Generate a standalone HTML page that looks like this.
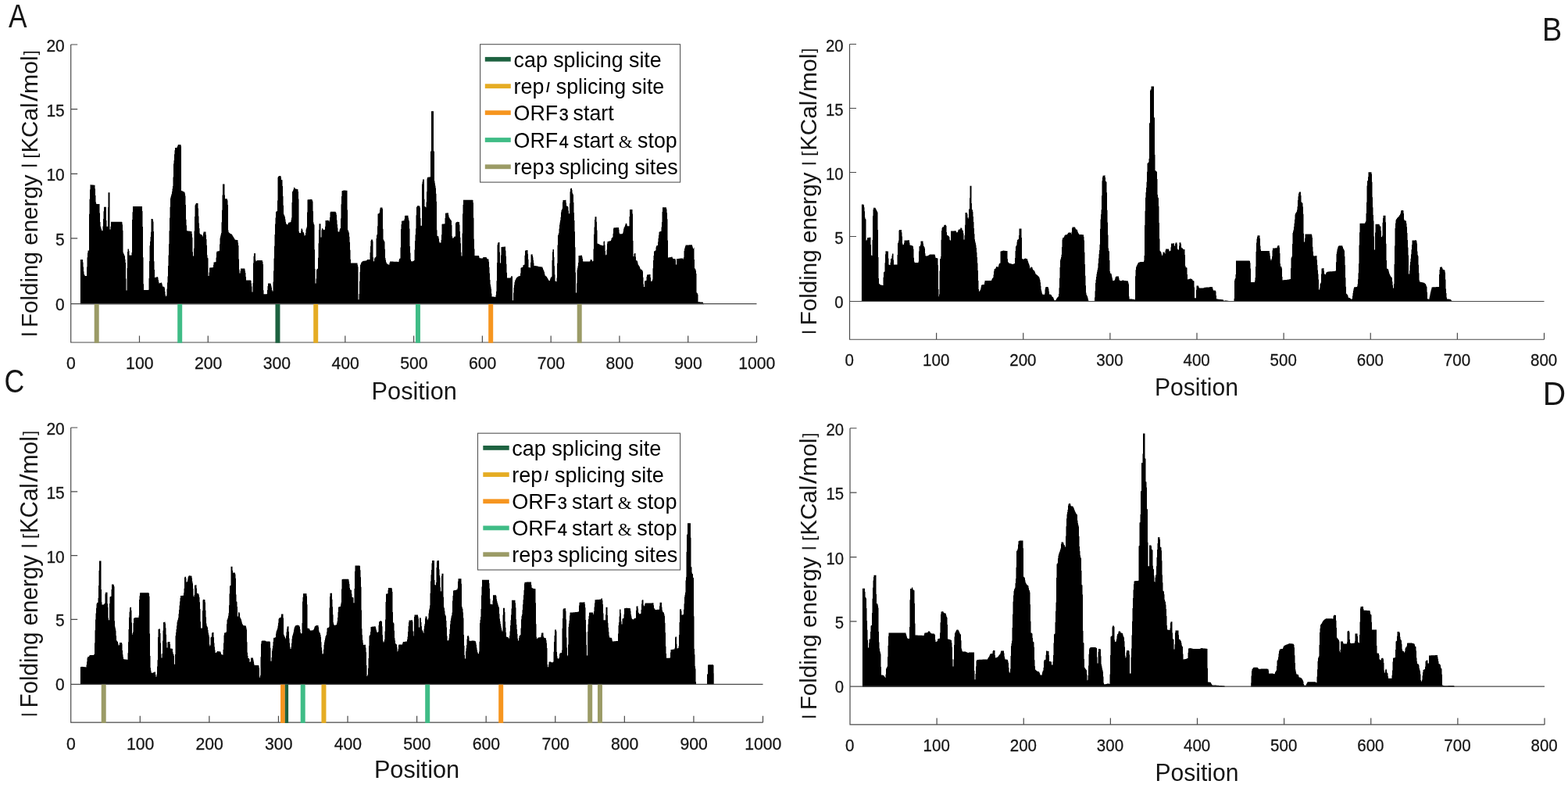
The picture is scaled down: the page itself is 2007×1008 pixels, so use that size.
<!DOCTYPE html>
<html lang="en"><head><meta charset="utf-8">
<title>Folding energy profiles</title>
<style>
html,body{margin:0;padding:0;background:#fff;}
body{width:2007px;height:1008px;overflow:hidden;}
svg{display:block;}
text{font-family:"Liberation Sans", Arial, Helvetica, sans-serif;fill:#151515;}
.tick{font-size:22.8px;text-anchor:middle;stroke:#151515;stroke-width:.3px;}
.ytick{font-size:22.8px;text-anchor:end;stroke:#151515;stroke-width:.3px;}
.xlab{font-size:30.7px;text-anchor:middle;}
.yl{font-size:29.6px;}
.ybar{font-size:19px;stroke:#151515;stroke-width:0.7px;}
.ybr{font-size:22.3px;}
.letter{font-size:42px;}
.leg{font-size:26.8px;fill:#000;}
.leg .sm{font-size:21.5px;stroke:#000;stroke-width:.4px;}
.leg .amp{font-family:"Liberation Serif", "DejaVu Serif", serif;font-size:22.8px;}
.leg .pr{font-size:17.5px;font-weight:bold;}
.ax{stroke:#4a4a4a;stroke-width:1.2;fill:none;}
.data{fill:#000;stroke:none;}
</style></head><body>
<svg width="2007" height="1008" viewBox="0 0 2007 1008">
<rect width="2007" height="1008" fill="#fff"/>
<g id="panel-A">
<path class="data" d="M102.9 389.3V331.9H106V335.5H106.5V341.4H107V347.2H107.5V350.8H108V351.8H108.5V352.7H109V353H111V341.4H111.5V329.3H112V323.6H112.5V320.5H114V273.7H114.5V254.8H115V242.5H115.5V236.3H116.5V236.4H117.5V236.5H118.5V236.6H119.5V236.7H120.5V236.8H121.5V241.4H122V250H122.5V258.6H123V260.8H124V260.9H125V261H126V261.1H127.5V272.4H128V283.9H128.5V289.6H129V291.3H129.5V292.9H130V294.6H130.5V295.2H131.5V289.5H132V279.9H132.5V270.3H133V264.7H136V282.1H136.5V289.7H138V265.1H138.5V246.2H140.5V293.6H141.5V289.8H142V283.7H156V284.2H156.5V287.2H157V294.8H157.5V322.8H158V324.2H158.5V325.3H159V326.4H159.5V327.5H160V331.7H160.5V335.9H161V356.4H161.5V371.4H162.5V343H163V322.1H163.5V318.6H165V320.9H165.5V326.5H168.5V323H169V281H169.5V271.2H170V264.1H182V270H182.5V290H183V329.2H183.5V363.2H184V371H190V370.7H190.5V356.1H191V334H191.5V314.3H192V308.7H192.5V303H193V296.8H193.5V280.1H195.5V280.8H196V283.6H196.5V296.1H197V334.2H197.5V345H198V355H198.5V354.9H199V354.7H199.5V354.6H200V354.5H200.5V354.4H201V354.2H201.5V354.1H202V355.3H202.5V358H203V360.6H203.5V362.4H204V362.2H204.5V362.1H205V361.9H205.5V361.8H206V361.6H206.5V361.5H207V362.5H207.5V364.6H208V366.4H208.5V366.5H209V366.7H209.5V366.8H210V366.9H210.5V368.5H211V372.8H211.5V377.1H212V378.9H213V377.5H213.5V369.5H214V361.5H214.5V353.5H215V340H215.5V326.5H216V312.2H216.5V295.2H217V278.8H217.5V264.8H218V253.4H218.5V251.6H219V249.8H219.5V248.1H220V245.1H220.5V241.5H221V237.9H221.5V226.4H222V209.6H222.5V205.3H223V197.2H223.5V192.3H224V189H226.5V188.3H227V186.9H227.5V185.5H228V185H231.5V186.7H232V243.9H232.5V244.1H233V244.3H233.5V244.6H234V244.8H234.5V245H235V245.2H235.5V245.5H236V245.7H236.5V247.4H237V250.4H237.5V262H238V280.8H238.5V288.2H239V295H239.5V295.3H240V295.4H241V295.5H241.5V295.6H242.5V295.7H243.5V295.8H244V295.9H245V296H245.5V298.9H246V303.7H246.5V322.3H247V327.5H248V317.7H248.5V295.5H249V277H249.5V262.5H250V261.4H250.5V260.4H251V259.8H251.5V259.9H252V260H253V260.1H253.5V266.6H254V276.5H254.5V285.4H255V291.9H255.5V298.4H256V299.4H256.5V299.6H257V299.8H257.5V300H258V300.2H258.5V301.3H259V302.8H259.5V301.3H260V298.5H260.5V296.6H263.5V300.6H264V306H264.5V313.8H265V326.3H265.5V329.8H266V330.2H266.5V353H267.5V348.4H268V342.5H268.5V342.4H269.5V342.3H271V342.2H272V342.1H273V338.8H273.5V335.5H274V335.4H274.5V335.3H275V335.2H276V335.1H276.5V329.5H277V322.7H277.5V321.5H278V321.4H279V321.3H280V321.2H280.5V320.7H281V312.4H281.5V304.5H282V302.3H282.5V300.1H283V297.9H283.5V284.2H284V268.7H284.5V249.6H285V235.4H287.5V249.5H288V254.2H290.5V254.4H291V256.2H291.5V261.9H292V294.4H292.5V297.1H293V297.6H293.5V298.1H294V298.6H294.5V298.8H295V299H295.5V299.2H296V299.4H296.5V299.8H297V300.6H297.5V301.4H298V302.3H298.5V303.1H299V304H299.5V304.8H300V305.6H300.5V306.4H301V306.7H302V306.8H302.5V306.9H303V307H303.5V307.1H304V307.2H304.5V310.4H305V313.9H305.5V331.4H306V344.6H306.5V349.4H307.5V346.5H308V343.5H313V343.7H313.5V346.2H314V348.9H314.5V353.9H315V358.4H321V358.9H321.5V362.4H322V366.4H322.5V373.4H323.5V362.1H324V336.6H324.5V327.8H325V323.9H327V332.5H327.5V334.2H328V333.8H328.5V333.4H329V333.1H335.5V333.2H336V334.9H336.5V337.9H337V371.2H337.5V376.3H341.5V376H342V371H342.5V366H343V362.4H346.5V363.5H347V365.5H347.5V367.8H348V371.1H348.5V372.4H349.5V360.6H350V346.4H350.5V330.6H351V314.8H351.5V300.1H352V286.4H352.5V278.5H353V271H353.5V270.5H354V270.2H354.5V269.9H355V256.5H355.5V226.7H356V226H356.5V225.3H357V224.9H359.5V226.8H360V229.9H360.5V230H361V230.2H361.5V238.1H362V250.9H362.5V262.8H363V273.7H363.5V275H364V276.2H364.5V277.5H365V280.5H365.5V283.8H366V285.9H366.5V286.4H367V286.9H367.5V287.4H368V287.2H368.5V286.1H369V285H369.5V284.6H370V284.5H370.5V284.4H371V284.3H371.5V284.2H372V283.8H372.5V281.2H373V278.5H373.5V259.1H374V245.3H374.5V244.4H375V243.5H375.5V241.9H376V239.5H376.5V240H377V240.6H377.5V241.2H378V241.5H378.5V241.6H379V241.7H379.5V241.8H380V242H380.5V242.1H381V242.2H381.5V244.9H382V254.4H382.5V296.1H383V297.8H383.5V297.9H384V298H384.5V298.2H385V295.5H385.5V292.6H387V294.1H387.5V296.6H388V297H388.5V297.5H389V299.1H389.5V301.6H390V301.2H390.5V300.8H391V297.9H391.5V293.6H392V291.9H392.5V290.3H393V271.5H393.5V255.4H394V255.3H395.5V255.2H396.5V255.1H398V255H399.5V256.2H400V257.6H400.5V270.2H401V284.2H401.5V286.6H402V287.6H402.5V319.2H403V344H403.5V362.4H404.5V356.6H405V345.3H405.5V344.2H406V343.9H406.5V343.5H407V329.7H407.5V311.2H408V294.1H408.5V286.3H410.5V303.6H411.5V294.2H412V291.9H412.5V292.3H413V292.6H413.5V293.5H414V294H414.5V293.9H415V293.8H415.5V293.7H416V289.8H416.5V282.1H417V282H418V281.9H419V281.8H420V281.7H420.5V282.5H421V283.6H421.5V281.7H422V277.9H422.5V271.7H423V270.7H429V270.8H429.5V271.5H430V272.2H430.5V274.8H431V281.6H431.5V286.9H432V291.6H432.5V296.2H433V296.6H434V296.3H434.5V293.8H435V292.4H435.5V291.9H436V279.6H436.5V261.2H437V250.9H437.5V244.2H438V244H438.5V243.9H439V243.7H439.5V243.6H440V243.4H440.5V243.5H441.5V243.6H442.5V243.7H443.5V243.8H444.5V268.6H445V293.9H445.5V295.1H446V296.4H446.5V297.7H447V302.7H447.5V309.8H448V319.8H448.5V331.8H449V336.5H457.5V338.7H458V341.2H458.5V383.3H459.5V376.1H460V359.7H460.5V347.7H461V339.1H461.5V337.8H462V336.6H462.5V335.4H463V335H463.5V334.6H464V334.2H464.5V333.9H465V333.8H466V333.7H467V333.6H468V333.5H468.5V333.4H469V332.9H469.5V332.4H470V331.9H473.5V322.9H474V314.8H474.5V307.9H475V306.6H477V308.4H477.5V329.2H478V334.5H478.5V334.1H479V330.7H479.5V329.4H480V329.3H480.5V329.2H481V327.9H481.5V304.9H482V300.8H482.5V299.8H483V289.3H483.5V273.6H484V273.4H484.5V273.1H485V272.9H485.5V271.7H486V268.2H486.5V265.7H487V265.6H487.5V265.4H488.5V265.5H489V265.6H489.5V267.3H490V292.8H490.5V306.3H491V307.3H491.5V308.3H492V309.3H492.5V318.7H493V329.9H493.5V332.4H494V334.9H494.5V336.6H495V337H495.5V337.5H496V337.9H496.5V338.3H497V338.5H498.5V335.9H499V334.5H500.5V334.6H503.5V334.7H506V334.8H509V334.9H510.5V332.9H511V331.1H511.5V330.8H512V330.6H512.5V316.4H513V293H513.5V287H514V282.7H514.5V282.6H515V282.5H515.5V282.4H516V282.3H516.5V282.2H517V282.1H517.5V280.1H518V276.1H518.5V275.7H522.5V278.6H523V281.2H523.5V282.7H524V292.5H524.5V314.9H525V323.4H525.5V331.9H526V334H526.5V334.2H527V334.3H527.5V334.5H528V334.3H528.5V334H529V333.7H529.5V333.4H530V333.1H530.5V319.4H531V308.1H531.5V300.3H532V292.5H532.5V275.3H533V265H533.5V264.2H534V263.3H537V264.1H537.5V265.8H538V279.1H538.5V288.7H540V235.6H540.5V232.4H541V229.5H543V254.8H543.5V264H544V264.4H544.5V264.8H545V265.2H545.5V258.6H546V245.2H546.5V228.4H547V226.8H547.5V226.7H548.5V226.6H549V226.5H550V226.4H550.5V226.3H551V193.6H552V142.2H555V193.6H556V231.6H556.5V234.6H557V237.6H557.5V240.6H558V247.7H558.5V257.7H559V294.3H559.5V301.8H560V302.1H560.5V302.3H561V302.6H561.5V305.3H562V308.7H562.5V310.6H564.5V306.9H565V300.2H565.5V286.7H566V286.6H566.5V286.5H567.5V286.4H568.5V286.3H569.5V278.9H570V272.7H570.5V272.6H571V272.5H571.5V272.4H572.5V272.3H573V272.2H573.5V272.4H574V275.2H574.5V277.8H575V278.6H575.5V279.4H576V280.3H576.5V281.1H577V281.8H577.5V282.3H578V287.9H578.5V301.9H579V303.7H579.5V305.1H580V304.5H580.5V303.8H581V303.2H581.5V302.6H583V285.4H583.5V284.4H584V284.2H584.5V283.9H585V283.7H586V283.8H586.5V283.9H587V284H588V287.5H588.5V296H589V303.7H589.5V311.2H590V322.7H590.5V327.5H591.5V298.6H592V273.4H592.5V262.1H593V255.8H605V256.1H605.5V259.3H606V278.7H606.5V305.8H607V318.6H607.5V327.1H613V328.2H613.5V330.1H614V330.2H615V330.3H616V330.4H617V330.5H617.5V330.2H618V329.5H618.5V329.1H622.5V329.6H623V330.6H623.5V331.2H624V331.3H624.5V331.4H625V331.5H625.5V334.7H626V341.7H626.5V349.4H627V357.9H627.5V363.8H628V366.6H628.5V369.5H629V375.5H629.5V379.4H630.5V379.5H631.5V379.6H632V379.7H633V379.8H634V379.9H634.5V377.4H635V372.7H635.5V359.2H636V336.1H636.5V313.3H637V311H637.5V310H639.5V322.4H640V336.5H641V326.6H641.5V316H642V315.9H643V315.8H644.5V315.7H645.5V315.6H647V320.6H647.5V327.7H648V337.7H648.5V348.7H649V355.4H653.5V354.8H654V353.8H654.5V353.1H655V353.2H655.5V353.4H656V384.3H657V374.4H657.5V368H658V364.6H658.5V361.1H659V358.9H659.5V357.9H660V356.9H660.5V355.9H661V355.2H661.5V354.8H662V354.4H662.5V354H663V353.5H663.5V353.4H664V353.3H664.5V353.2H665V353.1H666V349.4H666.5V342.8H667V342.3H667.5V342.2H668V342.1H668.5V341.9H669V340.9H669.5V339.1H670V338.9H670.5V338.7H671V338.5H671.5V326.7H672V320.5H672.5V320.4H673V320.3H673.5V320.2H674V320.1H675V320H675.5V324.8H676V331.8H676.5V341.9H677V342H677.5V342.1H678V342.3H678.5V342.4H679V335.7H679.5V325.5H680V325.4H680.5V325.3H681V325.1H681.5V327H682V329.2H682.5V332.7H683V336.4H683.5V339.9H684.5V340H685V340.1H686V340.2H686.5V340.3H687.5V340.4H688V340.5H688.5V340.7H689V341H689.5V341.1H690.5V341.2H691.5V341.3H693V341.4H694V341.5H694.5V342.9H695V344.4H695.5V345.5H696V346.5H696.5V347.9H697V350.4H697.5V352.5H698V352.8H698.5V353.2H699V353.5H699.5V354H700V354.9H700.5V355.8H701V356.6H701.5V357.5H702V358.4H702.5V358.8H703V359.1H703.5V359H704V357.2H704.5V355.4H705V354.8H705.5V354.6H706V353.8H706.5V333H707V322.3H707.5V319.1H709V328.9H709.5V340.2H710V351.2H710.5V359.5H711V359.7H711.5V360H712V360.2H712.5V355.4H713V336.7H713.5V313.6H714V301H714.5V299.8H715V298.1H715.5V292.6H716V287.4H716.5V284.5H717V281.7H717.5V277.8H718V271.5H718.5V269H719V267.9H719.5V266.8H720V258.6H720.5V256.1H721.5V256H722.5V255.9H723.5V255.8H724.5V259.4H725V263.4H725.5V263.6H726V263.8H726.5V264H727V264.9H727.5V269.5H728V273.3H729V260.3H729.5V245.3H730V241.6H730.5V240.8H732V243.1H732.5V246.8H733V248.1H733.5V249.3H734V259.1H734.5V272H735V282H735.5V296.3H736V316.3H736.5V348.4H737V374.4H738V362.6H738.5V345.3H739V342.8H739.5V340.3H740V336H740.5V327.1H741V327H742V326.9H742.5V326.8H743V326.7H744V326.6H744.5V326.7H745V328.6H745.5V331.1H746V334.2H746.5V334.5H755V333.9H755.5V332.3H756V331.9H757.5V332.9H758V334.5H758.5V334.1H759V333.7H759.5V318.5H760V299.8H760.5V290.4H761V280.9H761.5V277.3H763.5V283.7H764V294.4H764.5V311.6H765V311.7H765.5V311.8H766V311.9H766.5V312.1H767V312.5H767.5V312.9H768V313.2H768.5V313.4H769V313.5H769.5V313.6H770V313.8H770.5V313.9H771V314.1H771.5V314.3H772V314.1H772.5V309.1H773V308.6H774V313.2H774.5V321H775V325.8H775.5V326.6H776V325.8H776.5V319.6H777V311.4H777.5V309.1H778V308.9H778.5V308.8H779V308.6H779.5V308.5H780V308.4H780.5V308.3H781V308.2H781.5V308H782V306.9H782.5V304.9H783V303.9H783.5V303.8H784V303.6H784.5V298.8H785V292.6H785.5V291.2H788.5V291.1H792V293.6H792.5V297.7H793V299.2H796.5V298.9H797V298.1H797.5V296.2H798V293.2H798.5V291.2H799V290.4H799.5V289.5H800V288H800.5V286.2H801V285.7H802V286.3H802.5V288.6H803V289.3H805.5V277H806V268.1H809.5V273.4H810V308.1H810.5V328.1H811.5V324.8H812V323.9H813.5V328.4H814V333H814.5V333.3H815V333.6H815.5V333.8H816V335.7H816.5V338H817V339.1H817.5V339.8H818V340.6H818.5V341.3H819V342.7H819.5V344.2H820V344.6H820.5V344.7H821V344.9H821.5V345H822V346.1H822.5V347.3H823V354.8H823.5V363.4H824V367H825V359.4H825.5V359.3H826V359.2H826.5V359.1H827V358.7H827.5V353.9H828V351.4H829V351.3H830V351.2H831V351.1H832V351H832.5V354.9H833V359.8H833.5V359.7H834V359.6H834.5V359.5H835V357.5H835.5V343.2H836V333.1H836.5V326.9H837V321.5H837.5V321.3H838V321H838.5V320.8H839V319.9H839.5V316.2H840V314.5H840.5V314.3H841V314.1H841.5V314H842V309.4H842.5V304.7H843V300.7H843.5V296.7H844V296.4H844.5V296.2H845V296.1H845.5V295.9H846V295.7H846.5V290.4H847V283.9H847.5V270.9H848V265.3H852.5V265.4H853V267.6H853.5V272.3H854V280.2H854.5V307.4H855V329.5H855.5V329.4H856V329.3H857V329.2H857.5V329.1H858V329H858.5V328.9H859V328.8H859.5V328.6H860V328.5H860.5V329.5H861V330.6H861.5V331.1H864.5V332.6H865V338.5H866V331.1H866.5V331H867.5V330.9H868.5V330.8H869.5V330.7H870.5V330.6H871.5V330.5H874.5V331.8H875V329.2H875.5V321.1H876V318.2H876.5V316.5H877V314.9H877.5V313.6H878V313.5H880V313.4H882V313.3H884V313.2H886V314.8H886.5V316.6H887V317.8H887.5V318.3H888V316.8H888.5V332H889V343.2H889.5V343.8H890V344.4H890.5V346.2H891V350H891.5V374.2H892V374.7H892.5V375.2H893V376.7H893.5V386.2H894.5V386.3H896V386.4H897V386.5H898.5V386.6H899.5V386.8H900V387.8H900.5V388.7H900.9V389.3Z"/>
<path class="ax" d="M90.7 57V438H968.5M90.7 388.7H968.5M90.7 304.95h8.5M90.7 222.3h8.5M90.7 139.65h8.5M90.7 57h8.5M178.48 438v-8.5M266.26 438v-8.5M354.04 438v-8.5M441.82 438v-8.5M529.6 438v-8.5M617.38 438v-8.5M705.16 438v-8.5M792.94 438v-8.5M880.72 438v-8.5M968.5 438v-8.5"/>
<rect x="120.7" y="389" width="6" height="49.7" fill="#9b9b66"/>
<rect x="227.2" y="389" width="6" height="49.7" fill="#3fbc86"/>
<rect x="352.45" y="389" width="6" height="49.7" fill="#1d6240"/>
<rect x="401.2" y="389" width="6" height="49.7" fill="#e5ac23"/>
<rect x="531.95" y="389" width="6" height="49.7" fill="#3fbc86"/>
<rect x="625.2" y="389" width="6" height="49.7" fill="#f6951f"/>
<rect x="738.7" y="389" width="6" height="49.7" fill="#9b9b66"/>
<text class="ytick" transform="translate(82.7 396.6) scale(0.92 1)">0</text>
<text class="ytick" transform="translate(82.7 313.95) scale(0.92 1)">5</text>
<text class="ytick" transform="translate(82.7 231.3) scale(0.92 1)">10</text>
<text class="ytick" transform="translate(82.7 148.65) scale(0.92 1)">15</text>
<text class="ytick" transform="translate(82.7 66) scale(0.92 1)">20</text>
<text class="tick" transform="translate(91 471.6) scale(0.93 1)">0</text>
<text class="tick" transform="translate(178.78 471.6) scale(0.93 1)">100</text>
<text class="tick" transform="translate(266.56 471.6) scale(0.93 1)">200</text>
<text class="tick" transform="translate(354.34 471.6) scale(0.93 1)">300</text>
<text class="tick" transform="translate(442.12 471.6) scale(0.93 1)">400</text>
<text class="tick" transform="translate(529.9 471.6) scale(0.93 1)">500</text>
<text class="tick" transform="translate(617.68 471.6) scale(0.93 1)">600</text>
<text class="tick" transform="translate(705.46 471.6) scale(0.93 1)">700</text>
<text class="tick" transform="translate(793.24 471.6) scale(0.93 1)">800</text>
<text class="tick" transform="translate(881.02 471.6) scale(0.93 1)">900</text>
<text class="tick" transform="translate(968.8 471.6) scale(0.93 1)">1000</text>
<text class="xlab" transform="translate(530.2 510.7) scale(1 1.04)">Position</text>
<text class="yl" transform="translate(47.9 430) rotate(-90) scale(1 1.02)"><tspan class="ybar" x="0" y="-5">|</tspan><tspan x="2.78" y="0"> Folding energy </tspan><tspan class="ybar" x="215.8" y="-5">|</tspan><tspan class="ybr" x="221.31" y="-2.35"> [</tspan><tspan x="234.4" y="0">KCal</tspan><tspan x="300.2" y="0" textLength="10.3" lengthAdjust="spacingAndGlyphs">/</tspan><tspan x="310" y="0" textLength="48.7" lengthAdjust="spacingAndGlyphs">mol</tspan><tspan class="ybr" x="359.5" y="-2.35">]</tspan></text>
<text class="letter" transform="translate(10.9 34.5) scale(0.84 1)">A</text>
<rect x="614.6" y="56.7" width="256" height="176.4" fill="#fff" stroke="#555" stroke-width="1.1"/>
<rect x="620.8" y="72.9" width="32.95" height="5.8" fill="#1d6240"/>
<text class="leg" transform="translate(657.6 85.55) scale(1 1.03)">cap splicing site</text>
<rect x="620.8" y="107.3" width="32.95" height="5.8" fill="#e5ac23"/>
<text class="leg" transform="translate(657.6 119.95) scale(1 1.03)">rep<tspan class="pr" dx="2.6" dy="-1.5">/</tspan><tspan dx="0.6" dy="1.5"> </tspan>splicing site</text>
<rect x="620.8" y="141.3" width="32.95" height="5.8" fill="#f6951f"/>
<text class="leg" transform="translate(657.6 153.95) scale(1 1.03)">ORF<tspan class="sm" dx="1.5">3</tspan><tspan dx="-1.5"> </tspan>start</text>
<rect x="620.8" y="176.1" width="32.95" height="5.8" fill="#3fbc86"/>
<text class="leg" transform="translate(657.6 188.75) scale(1 1.03)">ORF<tspan class="sm" dx="1.5">4</tspan><tspan dx="-1.5"> </tspan>start <tspan class="amp" dx="-1.3">&amp;</tspan><tspan dx="-0.9"> </tspan>stop</text>
<rect x="620.8" y="210.4" width="32.95" height="5.8" fill="#9b9b66"/>
<text class="leg" transform="translate(657.6 223.05) scale(1 1.03)">rep<tspan class="sm" dx="1.5">3</tspan><tspan dx="-1.5"> </tspan>splicing sites</text>
</g>
<g id="panel-B">
<path class="data" d="M1102.9 386.1V261.4H1105.5V262.5H1106V265.2H1106.5V270.2H1107V278.3H1107.5V280.1H1108V280.6H1108.5V307.6H1109.5V306.4H1110V304.3H1110.5V304H1111V303.9H1112V303.8H1113V303.7H1114V303.6H1114.5V312.9H1115V326.6H1115.5V326.8H1116V327H1116.5V306.9H1117V276.2H1117.5V268.1H1118V265.7H1120.5V266.6H1121V267.5H1121.5V268.5H1122V269.5H1122.5V270.6H1123V271.6H1123.5V293.9H1124V329H1124.5V355.9H1125V362.8H1125.5V363.3H1126V363.8H1126.5V364.3H1127V364.5H1128V364.6H1128.5V364.7H1129V364.8H1129.5V364.9H1130V365H1130.5V354.7H1131V348.3H1131.5V347.9H1132V347.3H1132.5V336.3H1133V325.3H1133.5V321.2H1134.5V321.3H1135V321.4H1136V321.5H1137V330.5H1137.5V338.5H1138V338.7H1138.5V338.9H1139V339H1139.5V335.8H1140V331.1H1140.5V330.8H1141V330.6H1141.5V327.1H1142V324.5H1143.5V332.6H1144V338.5H1148.5V326.1H1149V311.1H1149.5V310.3H1150V307.8H1150.5V294.8H1151V294H1154V297.2H1154.5V302.5H1155V311.5H1155.5V313.3H1156V313H1156.5V312.7H1157V310.8H1157.5V307.6H1158.5V307.5H1160V307.4H1161.5V307.3H1163V307.2H1163.5V307.3H1164V310.5H1164.5V313.6H1165.5V313.7H1166V313.8H1166.5V313.9H1167V314H1167.5V314.3H1168V314.8H1168.5V315.2H1169V318.6H1169.5V329.8H1170V334.4H1170.5V335.7H1171V336.1H1175.5V334.6H1176V321.5H1176.5V315.1H1177V314.9H1177.5V314.7H1178V312.9H1178.5V308.6H1181.5V311.4H1182V314.4H1182.5V315.2H1183V316H1183.5V317.7H1184V324.3H1184.5V327.2H1185V327.3H1185.5V327.4H1186.5V327.5H1187V327.2H1187.5V327H1188V326.7H1188.5V326.4H1189V326.1H1189.5V325.7H1190V325.5H1196.5V326.1H1197V328.3H1197.5V329.9H1198V330H1198.5V330.1H1199V330.2H1199.5V330.3H1200V330.4H1200.5V339.3H1201V370H1201.5V379.3H1202V376.4H1202.5V346.4H1203V331.3H1203.5V330.9H1204V328.1H1204.5V306.8H1205V295.1H1205.5V292.1H1206V290.6H1207.5V290.1H1208V288.6H1208.5V287.7H1211V289H1211.5V297.1H1212V300.8H1212.5V301H1213V301.3H1213.5V301.5H1214V302H1214.5V302.6H1215V303.2H1215.5V306.8H1216V307.6H1217V295.6H1218.5V295.5H1220V295.4H1221.5V295.3H1223V295.2H1223.5V295.7H1224V296.7H1224.5V297.6H1225V297.2H1225.5V296.8H1226V295.6H1226.5V294.1H1227V293.6H1227.5V293.5H1228V293.4H1228.5V293.3H1229V292.4H1229.5V291.3H1230V291.4H1230.5V291.5H1231V292.2H1231.5V294.1H1232V294.9H1232.5V295.3H1233V298.5H1233.5V306.6H1234.5V300.9H1235V287.7H1235.5V272.1H1238V273.8H1238.5V278.5H1239V279.7H1239.5V278.1H1240V268.1H1240.5V267.1H1241V253.3H1241.5V237.8H1243.5V259.9H1244V268.1H1244.5V268.5H1245V271.1H1245.5V277.1H1246V284H1246.5V292.1H1247V299.3H1247.5V306.3H1248V309.1H1248.5V310.9H1249V313.5H1249.5V317H1250V322.8H1250.5V329H1251V336.6H1251.5V346H1252V359.1H1252.5V370H1253V372.5H1253.5V372.7H1254V371.8H1254.5V370.9H1255V369.4H1255.5V367.2H1256V365.1H1256.5V364.3H1257.5V364.2H1258.5V364.1H1259.5V364H1260V361.2H1260.5V359H1269V358.3H1269.5V357H1270V356.1H1270.5V355.6H1271V355.1H1271.5V351.6H1272V347.1H1272.5V344.4H1273V344.1H1273.5V343.8H1274V343.5H1274.5V342.5H1275V341.3H1275.5V341.1H1276V341.2H1276.5V341.3H1277V341.4H1278V339.6H1278.5V337.8H1279V336.9H1279.5V336.7H1280V336.5H1280.5V321.5H1281V321.4H1281.5V321.3H1282V321.1H1282.5V321H1283V320.8H1283.5V320.7H1284V320.6H1285V320.7H1286V320.8H1287V320.9H1287.5V321H1288.5V321.1H1289.5V331.3H1290V335H1290.5V335.7H1291V336.4H1291.5V336.6H1292V336.8H1292.5V337H1293V337.1H1293.5V337.3H1294V337.5H1294.5V337.6H1295V337.7H1295.5V337.8H1296V337.9H1296.5V337.7H1297V337.6H1297.5V337.4H1298V337.3H1298.5V337.1H1299V330.1H1299.5V321.1H1300V315.2H1300.5V314.4H1301V313.6H1301.5V309.6H1302V307H1302.5V306.6H1303V306.2H1303.5V305.8H1304V301.1H1304.5V292.6H1307.5V303.9H1308V330.7H1308.5V331.1H1309V331.6H1309.5V331.8H1310V331.6H1310.5V331.3H1311V331H1311.5V330.8H1312V330.5H1312.5V330.6H1313V330.7H1313.5V330.9H1314V331H1314.5V331.1H1315V332.5H1315.5V334.1H1316V335.6H1316.5V336.9H1317V338.2H1317.5V339.8H1318V342.2H1318.5V343.5H1319V342.3H1319.5V341.5H1320V341.6H1320.5V341.8H1321V342.1H1321.5V343.7H1322V345.1H1322.5V345.5H1323V345.8H1323.5V346.2H1324V346.7H1324.5V348.1H1325V349.5H1325.5V350.6H1326V351H1326.5V351.3H1327V351.7H1327.5V352.1H1328V352.5H1328.5V353H1329V353.5H1329.5V354H1330V354.8H1330.5V356.6H1331V358.3H1331.5V361.3H1332V365.8H1332.5V370.4H1333V372.5H1333.5V374.7H1334V376.4H1334.5V376.5H1335V376.6H1335.5V376.7H1336V376.8H1336.5V376.9H1337V375.6H1337.5V370.3H1338V367.8H1338.5V367H1341.5V367.8H1342V369.5H1342.5V372.8H1343V376.4H1343.5V376.5H1344V376.6H1344.5V376.8H1345V376.9H1345.5V377.4H1346V378.4H1346.5V379.4H1347V379.7H1347.5V380.1H1348V380.8H1348.5V382.2H1349V383.6H1349.5V384.3H1351V384H1351.5V383.2H1352V382.3H1352.5V381.5H1353V380.8H1353.5V380.3H1354V379.8H1354.5V379.3H1355V376H1355.5V368.2H1356V355.7H1356.5V342H1357V332.8H1357.5V330.9H1358V329H1358.5V325.7H1359V316.1H1359.5V306.5H1360V304.4H1360.5V304.1H1361V303.9H1361.5V303.6H1362V302.6H1362.5V301.3H1363V300.6H1363.5V300.5H1364V300.4H1364.5V300.3H1365V300.2H1365.5V300.1H1366V299.6H1366.5V298.8H1367V297.9H1367.5V297.6H1370.5V298H1371V299.5H1371.5V296.8H1372V292.1H1372.5V290.6H1376V291.3H1376.5V292.6H1377V293.3H1377.5V293.4H1378V293.6H1378.5V294.1H1379V295.5H1379.5V297H1380V298.1H1380.5V298.9H1381V299.8H1381.5V300H1382.5V300.1H1385V300.2H1387V303H1387.5V307.6H1388V322.8H1388.5V337.9H1389V352.7H1389.5V365.3H1390V374.6H1390.5V377.1H1391V378.1H1391.5V379H1392V380.6H1392.5V382.6H1393V384.6H1393.5V384.9H1401V380.5H1401.5V372.3H1402V362H1402.5V357.7H1403V354.1H1403.5V350.5H1404V347.7H1404.5V345.2H1405V342.7H1405.5V336.7H1406V330.5H1406.5V324.9H1407V319.9H1407.5V312.8H1408V292.8H1408.5V280.4H1409V274.3H1409.5V268.2H1410V250.3H1410.5V231.2H1411V226.8H1411.5V224.8H1412V224.7H1412.5V224.6H1413V224.5H1413.5V224.4H1414V224.3H1414.5V227.1H1415V231.8H1415.5V232.3H1416V232.7H1416.5V246.3H1417V268.8H1417.5V284.4H1418V300.6H1418.5V317.4H1419V321H1419.5V321.5H1420V333.1H1420.5V347.1H1421V349.5H1421.5V349.7H1422V349.8H1422.5V351.3H1423V353.7H1423.5V356H1424V358.5H1424.5V359.3H1425V359.1H1425.5V358.9H1426V358.6H1426.5V358.4H1427V356.7H1427.5V354.7H1428V354H1428.5V353.5H1429V353.4H1432V355.7H1432.5V358.2H1433V358.6H1433.5V358.9H1434V359.1H1434.5V359.4H1435V359.2H1435.5V358.9H1436V358.7H1436.5V358.4H1437V358.5H1437.5V358.6H1438V358.7H1438.5V358.8H1439V358.9H1439.5V359H1440V359.1H1441V359.2H1442V359.3H1443V359.4H1444V361.4H1444.5V363.4H1445V379.2H1445.5V382.4H1446.5V382.5H1447.5V382.6H1449V382.7H1450V382.8H1451V382.9H1451.5V383H1452V383.7H1452.5V382.4H1453V353.3H1453.5V345.2H1454V341.7H1454.5V340.6H1455V339.5H1455.5V338.4H1456V337.5H1456.5V336.6H1457V335.8H1457.5V335.7H1458V335.5H1458.5V335.4H1459V335.2H1459.5V335.1H1463.5V334.9H1464V333.6H1464.5V327.1H1465V288H1465.5V269.7H1466V252.7H1466.5V246H1467V240H1467.5V232.8H1468V219.8H1468.5V208.9H1469V208.4H1469.5V208H1470V207.5H1470.5V203H1471V157.4H1471.5V157.2H1472V115.9H1472.5V114.6H1473V114.4H1473.5V110.5H1477V150.2H1477.5V150.5H1478V198.1H1478.5V218H1479V218.4H1479.5V218.8H1480V219.3H1480.5V219.7H1481V228.9H1481.5V248.9H1482V252.5H1482.5V253.3H1483V263.7H1483.5V284.9H1484V305.6H1484.5V320.7H1485V321.3H1485.5V322H1486V322.7H1486.5V324.7H1487V326.6H1487.5V326.9H1488V325.2H1488.5V322.5H1490.5V323.7H1491V324.6H1491.5V320.5H1492V318.6H1496V319.6H1496.5V321.5H1497V321.2H1497.5V320.9H1498V320.6H1498.5V316.2H1499V311.6H1499.5V311.5H1500.5V311.4H1501.5V311.3H1502V311.2H1503V314.6H1504V312.1H1504.5V310.5H1505V310.4H1505.5V310.3H1506V310.2H1506.5V312.6H1507V318.2H1507.5V319.3H1508V319.4H1508.5V319.5H1509V314.5H1509.5V310.2H1511.5V312.2H1512V316.6H1512.5V317.3H1513V317.4H1513.5V317.5H1514V318.2H1514.5V319.1H1516.5V326.1H1517V340.1H1517.5V341.7H1518V341.9H1518.5V342.2H1519V342.4H1519.5V351.1H1520V357.4H1520.5V357.3H1521V357.2H1521.5V357H1522V356.9H1522.5V356.7H1523V356.5H1524V356.6H1524.5V356.7H1525V356.9H1525.5V357H1526V357.8H1526.5V358.8H1527V359.1H1527.5V359.2H1528V359.4H1528.5V367.4H1529V381.2H1529.5V381.3H1531V370.7H1531.5V365.4H1534V366.6H1534.5V368.1H1535V368.4H1540.5V368.2H1541V368H1541.5V367.8H1542V367.7H1543.5V367.6H1545V367.5H1546.5V367.4H1548V367.2H1548.5V367H1552V368.7H1552.5V370.5H1553V371.4H1553.5V371.5H1554.5V371.6H1555.5V371.7H1556V372.7H1556.5V378H1557V382.3H1557.5V382.4H1558V382.5H1558.5V382.6H1559V382.7H1559.5V382.8H1560.5V382.9H1561V383H1562.5V383.1H1563.5V383.2H1565V383.3H1565.5V383.4H1566V384.2H1566.5V384.9H1567V384.8H1567.5V384.6H1568V384.5H1568.5V384.3H1569V384.4H1569.5V384.5H1570.5V384.6H1571V384.7H1571.5V384.8H1572.5V384.9H1573.5V385H1575V385.1H1577V385.2H1578.5V385.3H1579.5V382H1580V358.7H1580.5V356.7H1581V356H1581.5V351.1H1582V333.5H1599.5V334.1H1600V336.3H1600.5V343.5H1601V361H1606V359H1606.5V355.2H1607V341H1607.5V321.7H1608V310.5H1608.5V305.6H1609V302.9H1609.5V301.2H1612.5V305.1H1613V314.4H1613.5V319.2H1614V321.1H1624.5V321.3H1625V324H1625.5V327.3H1626V331.1H1626.5V333H1627V332.7H1627.5V331H1628V327.9H1628.5V320.2H1629V317.5H1630.5V317.4H1632V317.3H1633V317.2H1634.5V316.3H1635V314.7H1635.5V314H1637.5V316.5H1638V324.1H1638.5V337.3H1639V340.7H1639.5V341H1640V341.2H1640.5V343.3H1641V353.9H1641.5V358.4H1642V358.3H1643V358.2H1644V358.1H1645V358H1646V357.9H1647V357.8H1648V357.7H1648.5V357.6H1649V357.5H1649.5V357.4H1650V357.3H1650.5V357.2H1651V357.1H1651.5V357H1652V342.9H1652.5V330.2H1653V328.9H1653.5V327.7H1654V311.9H1654.5V298.1H1655V296H1655.5V293.9H1656V290H1656.5V285.8H1657V280.7H1657.5V274.4H1658V273H1658.5V272.3H1659V271.5H1659.5V270.8H1660V268.5H1660.5V264.2H1661V256.1H1661.5V251.3H1662V247.8H1662.5V246.3H1663V245.6H1663.5V245.4H1665V249.9H1665.5V258.3H1666V259.1H1666.5V259.4H1667V259.7H1667.5V264.5H1668V273.8H1668.5V298.8H1669V309.6H1670V304.8H1670.5V299.6H1679V301.2H1679.5V304.1H1680V315.8H1680.5V321.8H1681V326.8H1681.5V327.5H1682V327.4H1683V327.3H1684V327.2H1685V327.1H1685.5V332.6H1686V338.9H1686.5V345.4H1687V350.5H1687.5V357.6H1688V370.4H1689V368.2H1689.5V363.3H1690V362.5H1690.5V361.6H1691V350.6H1691.5V343.4H1692.5V343.3H1693V343.2H1693.5V343.1H1694.5V346.6H1695V350.3H1695.5V350.8H1696V351.3H1696.5V350.7H1697V349.5H1697.5V348.4H1698V348.2H1698.5V347.9H1699V347.7H1699.5V347.4H1701.5V347.3H1703.5V347.2H1705.5V347.1H1707V347H1707.5V346.9H1708V346.8H1708.5V346.7H1709V346.6H1709.5V346.5H1710V335.3H1710.5V324.8H1711V321.8H1711.5V319.1H1712V317.2H1712.5V315.4H1713V314.8H1713.5V314.5H1714V314.2H1718V314.4H1718.5V316.1H1719V317.7H1719.5V318.6H1720V319.5H1720.5V320.5H1721V328.1H1721.5V338.9H1722V355.2H1722.5V366.8H1723V375.4H1723.5V375.9H1724V376.4H1724.5V376.9H1725V378.3H1725.5V379.7H1726V380.9H1726.5V381H1727V381.1H1727.5V381.2H1728V381.4H1728.5V382H1729V382.6H1729.5V382.8H1730V382.6H1730.5V382.3H1731V378.6H1731.5V374.8H1732V371.8H1732.5V369.3H1733V367.4H1733.5V367.3H1734.5V367.2H1735.5V367.1H1736.5V367H1737V366.3H1737.5V363.4H1738V357.3H1738.5V349.3H1739V337.3H1739.5V313.6H1740V297.3H1740.5V285.7H1747V285.3H1747.5V284H1748V282.8H1748.5V272.9H1749V258.8H1749.5V237.5H1750V231.5H1750.5V231.1H1751V226.3H1751.5V220.3H1755.5V222.5H1756V232.7H1756.5V252.2H1757V265.3H1757.5V275.1H1758V282.6H1758.5V302.5H1759V319.5H1760V297.5H1760.5V286.7H1765.5V287.7H1766V289.3H1766.5V289.4H1767V289.6H1767.5V295.2H1768V303.2H1768.5V302.9H1769V301.5H1769.5V284.8H1770V278.9H1770.5V275.7H1773.5V284.2H1774V311.8H1774.5V333H1775V343.6H1775.5V343.8H1776V344.1H1776.5V344.3H1777V345.5H1777.5V347.6H1778V349.6H1778.5V350.7H1779V351.8H1779.5V352.9H1780V353.7H1780.5V354.3H1781V354.8H1781.5V355.4H1782V360.2H1782.5V364.8H1783V368.5H1783.5V368.4H1784V363.1H1784.5V338.1H1785V314.5H1785.5V292H1786V285.5H1786.5V281.4H1787V280.6H1787.5V279.9H1788V279.1H1788.5V278.5H1789V278H1789.5V277.5H1790V277H1790.5V276.4H1791V275.6H1791.5V274.9H1792V274.1H1792.5V272.6H1793V270.1H1793.5V268.8H1794V268.9H1794.5V269H1795V269.1H1795.5V269.2H1796V269.3H1796.5V272.9H1797V280.6H1797.5V281.8H1798V282H1798.5V282.2H1799V282.4H1799.5V282.6H1800V285.8H1800.5V290.3H1801V297.9H1801.5V306.9H1802V316.6H1802.5V326.6H1803V350.4H1804V346.3H1804.5V339.3H1805V335H1805.5V330.7H1806V325.2H1806.5V319.2H1807V313H1807.5V307.6H1808V307.5H1809.5V307.4H1811V307.3H1812V307.2H1813V308.4H1813.5V311.4H1814V321.4H1814.5V326.3H1815V327.5H1815.5V338.7H1816V349.2H1816.5V358.5H1817V360.5H1817.5V360.6H1818V360.7H1818.5V360.8H1819V360.9H1819.5V361H1820V361.1H1820.5V361.2H1821V361.4H1821.5V361.5H1822V361.6H1822.5V361.8H1823V362.1H1823.5V362.5H1824V362.9H1824.5V363.3H1825V364.5H1825.5V365.7H1826V367H1826.5V373.7H1827V382.3H1827.5V382.5H1828V382.6H1828.5V382.8H1829V382.7H1829.5V380.4H1830V378.1H1830.5V375.6H1831V373.2H1831.5V371.3H1832V369.4H1832.5V367.5H1833V367.4H1833.5V367.3H1835.5V367.2H1838V367.1H1840V367H1842V351H1842.5V345.1H1843V342.1H1843.5V341.5H1846V343H1846.5V344.5H1847V344.7H1847.5V344.9H1848V345.1H1848.5V345.3H1849V346H1849.5V348.5H1850V357.4H1850.5V369.6H1851V375H1851.5V380.4H1852V382.4H1853V382.5H1853.5V382.6H1854.5V382.7H1855.5V382.8H1856V382.9H1856.5V383H1857V383.6H1857.5V384.2H1858V384.9H1858.5V385.3H1859V385.7H1859.5V386H1859.7V386.1Z"/>
<path class="ax" d="M1087.5 56.5V434.25H1976.5M1087.5 385.5H1976.5M1087.5 302.5h8.5M1087.5 220.5h8.5M1087.5 138.5h8.5M1087.5 56.5h8.5M1198.62 434.25v-8.5M1309.75 434.25v-8.5M1420.88 434.25v-8.5M1532 434.25v-8.5M1643.12 434.25v-8.5M1754.25 434.25v-8.5M1865.38 434.25v-8.5M1976.5 434.25v-8.5"/>
<text class="ytick" transform="translate(1079.5 393.5) scale(0.89 1)">0</text>
<text class="ytick" transform="translate(1079.5 311.5) scale(0.89 1)">5</text>
<text class="ytick" transform="translate(1079.5 229.5) scale(0.89 1)">10</text>
<text class="ytick" transform="translate(1079.5 147.5) scale(0.89 1)">15</text>
<text class="ytick" transform="translate(1079.5 65.5) scale(0.89 1)">20</text>
<text class="tick" transform="translate(1087.1 468.4) scale(0.9 1)">0</text>
<text class="tick" transform="translate(1198.22 468.4) scale(0.9 1)">100</text>
<text class="tick" transform="translate(1309.35 468.4) scale(0.9 1)">200</text>
<text class="tick" transform="translate(1420.47 468.4) scale(0.9 1)">300</text>
<text class="tick" transform="translate(1531.6 468.4) scale(0.9 1)">400</text>
<text class="tick" transform="translate(1642.72 468.4) scale(0.9 1)">500</text>
<text class="tick" transform="translate(1753.85 468.4) scale(0.9 1)">600</text>
<text class="tick" transform="translate(1864.97 468.4) scale(0.9 1)">700</text>
<text class="tick" transform="translate(1976.1 468.4) scale(0.9 1)">800</text>
<text class="xlab" transform="translate(1531.4 506.3) scale(0.98 1)">Position</text>
<text class="yl" transform="translate(1044.8 427.25) rotate(-90) scale(1 0.99)"><tspan class="ybar" x="0" y="-5.15">|</tspan><tspan x="2.78" y="0"> Folding energy </tspan><tspan class="ybar" x="215.8" y="-5.15">|</tspan><tspan class="ybr" x="221.31" y="-2.42"> [</tspan><tspan x="234.4" y="0">KCal</tspan><tspan x="300.2" y="0" textLength="10.3" lengthAdjust="spacingAndGlyphs">/</tspan><tspan x="310" y="0" textLength="48.7" lengthAdjust="spacingAndGlyphs">mol</tspan><tspan class="ybr" x="359.5" y="-2.42">]</tspan></text>
<text class="letter" transform="translate(1973.9 52) scale(0.9 1)">B</text>
</g>
<g id="panel-C">
<path class="data" d="M102.9 876V853.4H103V853.3H103.5V853.1H104V853H104.5V852.8H105.5V852.9H106.5V853H107.5V853.1H108V853.2H109V853.3H110V853.4H110.5V850.4H111V846.6H111.5V842H112V840.3H112.5V840.2H113V840H113.5V839.9H114V839.2H114.5V838.3H115V838H120V837.5H120.5V836.7H121V822.5H121.5V806.2H122V792.4H122.5V784.6H123V777.8H123.5V772.6H124V771.1H124.5V770.9H125V770.7H125.5V765.1H126V749H126.5V729.7H127V717.5H129.5V753.9H130V770.2H130.5V773.6H131.5V773.5H132V773.4H132.5V773.3H133V772.8H133.5V772.2H134V771.4H134.5V759.7H135V757.7H137.5V772.3H138V777.1H138.5V790.4H139V793.2H140V771.9H140.5V763.5H141V763.3H141.5V763H142V762.8H142.5V754H143V747.4H145.5V748.6H146V750.3H146.5V794.2H147V801.5H147.5V803.7H148V806.4H148.5V813.2H149V819.2H149.5V819.8H150V820.4H150.5V821.1H151V823.3H151.5V825.5H152.5V824.7H153V821.9H156V823.4H156.5V831.9H157V837.3H157.5V840.5H158V843H158.5V843.2H159V843.3H159.5V843.4H160V843.5H161V843.6H162V843.7H162.5V843.8H163.5V835.3H164V821.2H164.5V805H165V789.7H165.5V782.8H166V777.5H166.5V776.7H168V780.8H168.5V796.5H169V810.1H169.5V811.9H170V808.6H170.5V797.1H171V791.3H171.5V790.5H172V790.3H172.5V790.2H173V790H177.5V787.4H178V767.1H178.5V762.2H179V758.5H179.5V758.3H190.5V759.1H191V762.7H191.5V810.6H192V839H192.5V854.2H193V857.7H193.5V860.4H194V860.6H194.5V860.8H195V860.9H195.5V860.6H196V860.3H196.5V860H197V859.8H197.5V859.6H198V859.5H198.5V859.4H199V862.9H199.5V865.7H200V865.5H200.5V862.5H201V852.6H201.5V844.3H202V815H202.5V805.1H203V804.6H205V809.9H205.5V822.4H206V836.5H206.5V841.4H207.5V836H208V819.8H208.5V806.4H209V796H209.5V795.9H210V795.8H210.5V795.7H211V795.6H211.5V797.6H212V803.3H212.5V811.8H213V821.8H213.5V828.5H214.5V821.2H215V821.1H217.5V823.9H218V829.5H218.5V829.6H219.5V829.7H220V829.8H220.5V830H221V834.1H221.5V836.6H222V836.8H222.5V838.9H223V849.8H224V837.1H224.5V813.3H225V809.1H225.5V805H226V800.6H226.5V796.1H227V793.8H227.5V792.5H228V790.2H228.5V785.2H229V780.1H229.5V774.6H230V769.4H230.5V765.1H231V762.1H231.5V762H232.5V761.9H233.5V761.8H234.5V761.7H235V758.5H235.5V752.8H236V738.7H236.5V737.8H238V739.8H238.5V744.7H239V744.3H239.5V743.9H240V741.5H240.5V738.5H241V737.2H241.5V736.4H242V736.3H243V736.4H243.5V736.5H244V736.6H244.5V736.7H245V736.8H245.5V739.4H246V743.8H246.5V746.3H247V752.9H247.5V762.8H248V763.3H248.5V760.9H249V748.7H249.5V748.6H250V748.5H250.5V748.3H251V748.2H251.5V752.4H252V758.7H252.5V759H253V759.2H253.5V759.4H254V759.6H254.5V761.4H255V763.9H255.5V770.2H256V778.9H256.5V795.2H257V803.6H259V781.2H259.5V767.4H260V767H260.5V766.7H261V766.9H261.5V767H262V767.2H262.5V770.6H263V780.8H263.5V789.5H264V797.5H264.5V800.4H265V801.4H265.5V802.5H266V805.9H266.5V809.4H267V811.9H267.5V814.4H268V824.4H268.5V826.5H269V825.4H269.5V815.4H270V814.9H270.5V814.5H271V810.1H271.5V809.1H273.5V815.3H274V822.5H274.5V827.5H275V831.6H275.5V835H276V834.9H276.5V834.7H277V834.5H277.5V833.7H278V833.1H279V833.2H280V833.3H281V833.4H282.5V835H283V836.8H283.5V837.2H284V837.4H284.5V837.6H285V837.8H285.5V831H286V822.6H286.5V812.6H287V809.5H287.5V809.4H288V809.3H289V809.2H289.5V808.1H290V798.3H290.5V792.9H291V791.7H291.5V790.3H292V787.8H292.5V784.3H293V774.3H293.5V759.6H294V749.6H294.5V749.2H295V748.8H295.5V724.8H297.5V729.7H298V732.8H298.5V732.6H299V732.5H299.5V732.4H300V732.3H300.5V733.1H301V734.6H301.5V739.8H302V760.5H302.5V769.2H303V770H303.5V776.1H304V788.6H305V783.2H306.5V784.5H307V789.6H307.5V790.6H308V791.5H308.5V792.5H309V794.4H309.5V796.4H310V798H310.5V799H311V800H311.5V800.1H312.5V800.2H313V800.3H313.5V800.4H314V800.5H314.5V800.6H315V802.8H315.5V805.3H316V821.2H316.5V834.7H317V838.9H317.5V841.9H318V842.1H318.5V842.3H319V842.9H319.5V847H320.5V845.9H321V841.4H324V843.8H324.5V846.3H325V849.2H325.5V851H331V851.6H331.5V854.3H332V865.5H332.5V866.9H333V863.8H333.5V840.3H334V823.5H334.5V820.2H335V819.7H335.5V819.5H339.5V819.7H340V820.1H340.5V820.5H345.5V821.3H346V828.8H346.5V845.8H347.5V841.1H348V832.5H348.5V829.5H349V825.9H349.5V821.1H350V816.2H350.5V815.8H351.5V815.7H352V815.6H352.5V814.9H353V810.5H353.5V807.8H354V806.6H354.5V805.3H355V803.4H355.5V800.4H356V796.7H356.5V791.7H357V790.5H357.5V790.4H358V790.3H358.5V790.2H359V790.1H359.5V788.4H360V785.6H362.5V790.4H363V811.6H363.5V812.7H364V813.8H364.5V814.9H365V816.1H365.5V817.3H366V813.3H366.5V808.5H367V804.5H367.5V801.5H368V801.4H368.5V801.3H369V801.2H369.5V808.1H370V816.4H370.5V822.4H371V827.4H371.5V829.9H372.5V827.5H373V822.8H373.5V817.3H374V813.7H374.5V812.2H375V810.6H375.5V808.6H376V805.6H376.5V803.2H377V801.9H377.5V800.7H378V800.4H378.5V800.1H379V799.9H379.5V799.7H380V799.6H380.5V799.7H381.5V799.8H382V799.9H383V800.7H383.5V802H384V804.9H384.5V808.9H385V810.4H385.5V810.2H386V810.1H386.5V797.1H387V769.6H387.5V763.9H388V759.3H392.5V762.6H393V773.2H393.5V803.6H394V803.7H395V803.8H395.5V803.9H396V804.8H396.5V806.1H397V806.5H398V806.4H399V806.3H400V806.2H401V805.6H401.5V804.8H402V803.4H402.5V801.7H403V801H403.5V800.7H404V800.4H404.5V800.1H405V800H407.5V802.3H408V806.6H408.5V808.8H409V809.3H409.5V809.8H410V812H410.5V814.8H411V821.2H411.5V828.2H412V832.3H412.5V836.5H413V836.7H413.5V835.7H414V830.8H414.5V824.8H415V821.5H415.5V819H416V816.5H416.5V814H417V812.9H417.5V812.1H418V808.4H418.5V804H419V803.1H419.5V802.9H420V802.8H420.5V802.7H421V801.8H421.5V777.6H422V763.2H422.5V758.7H425V766.8H425.5V776.3H426V786.3H426.5V796.3H427V798.5H427.5V799.5H428V799.9H428.5V799.8H429V799.6H429.5V799.5H430V799.3H430.5V799.2H431V797.1H431.5V794.7H432V790H432.5V782.9H433V776.6H433.5V776.4H434V776.2H434.5V776.1H435V775.9H435.5V775.7H436V773.3H436.5V770.8H437V753.4H437.5V741.3H438V741H438.5V740.8H446V741.3H446.5V743.8H447V746.9H447.5V752.1H448V754.2H448.5V754.4H449V754.6H449.5V754.9H450V759.4H450.5V763.7H451V764H451.5V764.3H452V764.6H452.5V771.3H453.5V753.1H454V730.7H454.5V723.4H460.5V724H461V729.3H461.5V738.2H462V750.7H462.5V780.5H463V804.2H463.5V812.2H464V818.8H464.5V822.6H465V825H465.5V824.9H466V824.8H466.5V824.7H467V824.6H467.5V825H468V828.5H468.5V834.2H469V851H469.5V864.9H470V864.6H470.5V862.9H471V854.8H471.5V842.1H472V826.3H472.5V813.4H473V812.7H473.5V812H474V808.3H474.5V801.9H475.5V801.8H476V801.7H476.5V801.6H477V801.5H478V801.4H479V801.3H480V801.2H480.5V801.7H481V803.9H481.5V806H482V807.8H482.5V809.1H483V808.9H483.5V808.7H484V807.9H484.5V799.8H485V795.4H485.5V795H486V794.6H486.5V794.4H487V794.2H487.5V794.1H488V794.4H488.5V795.2H489V801.2H489.5V812.2H490V819.4H490.5V821.5H491.5V820.2H492V818.1H492.5V807.5H493V792.5H493.5V770H494V759.7H494.5V759.6H495V759.5H495.5V759.4H496V759.3H496.5V754.8H497V752.1H501.5V753.5H502V757H502.5V783.1H503V796H503.5V796.7H504V797.4H504.5V806.7H505V816.3H505.5V819.6H506V822.9H506.5V823.7H507V824.1H507.5V824.4H508V828.1H508.5V833.4H509V832.8H509.5V830.2H510V825.2H510.5V824.5H515V823.3H515.5V821.6H516V821.1H516.5V821H517V820.9H518V820.8H519V820.7H519.5V820.6H520.5V820.5H521V817.9H521.5V814.4H522V808H522.5V800.9H523V795.9H523.5V793.6H524V793.5H525V793.4H526V793.3H527.5V793.2H528V795.3H528.5V807.5H529V813.5H529.5V807.5H530V789H530.5V786.6H535V788.7H535.5V791.2H536V802.6H537V790.5H537.5V790.3H538V790.1H538.5V791.2H539V796H539.5V800.9H540V805.6H540.5V806.4H541V807.3H541.5V808.8H542V810.1H542.5V804.5H543V800.4H543.5V797.9H544V790.9H544.5V788.6H546.5V791.6H547V793.2H547.5V792.3H548V790.8H548.5V784.6H549V780.5H549.5V778.5H550V774.5H550.5V758.7H551V743.6H551.5V735.3H552V729H552.5V720.6H553V716.9H556V742H556.5V748H557V748.2H557.5V748.5H558V745.1H558.5V725.9H559V718.4H559.5V716.9H561.5V717H562V728.3H562.5V735.9H563V738.4H563.5V751.2H564V756.7H564.5V756H565V736.8H565.5V733.8H567.5V763.7H568V776.6H568.5V778.1H569V781.6H569.5V785.7H570V787H570.5V788.2H571V794.1H571.5V802.5H572V813.5H572.5V819.2H573V819.3H573.5V819.4H574V818.7H574.5V816.2H575V811.1H575.5V804.8H576V798.6H576.5V794.1H577V791.2H577.5V788.4H578V786.9H578.5V783.6H579V768.6H579.5V761.9H580V755.7H580.5V755.2H581.5V755.1H582V755H582.5V754.9H583V754.8H583.5V754.7H584V754.4H584.5V754.2H585V753.9H585.5V752.2H586V743.7H586.5V740.2H590.5V746.7H591V775.7H591.5V777.4H592V779H592.5V783.6H593V790.4H593.5V812.1H594V826H594.5V837.9H595V842.4H596V833.2H596.5V829.2H597V825H597.5V817.5H598V813.5H598.5V813.4H599V813.3H599.5V813.2H600V815.2H600.5V819.4H601V819.9H601.5V819.8H602.5V819.7H604V819.6H605V819.5H606V819.6H606.5V819.7H607.5V819.8H608V819.9H608.5V820.5H609V822.3H609.5V824.8H610V828.6H610.5V831.4H611V833.9H611.5V835.6H612V836H612.5V836.4H613V833.4H613.5V820.7H614V796.9H614.5V792.9H615V789H615.5V779.1H616V761.5H616.5V750.5H617V741.8H626V745.9H626.5V752.7H627V765.8H627.5V772.7H628V772.8H628.5V772.9H629V773H629.5V773.1H630V773.2H630.5V768.3H631V761.3H635V762.6H635.5V766.6H636V769.1H636.5V770.9H637V772.8H637.5V774.4H638V775.9H638.5V777.3H639V785.2H639.5V791.5H640V794.8H640.5V798H641V800.5H641.5V803H642V805.6H642.5V807.5H643.5V786.6H644V777.7H646V783.1H646.5V795.2H647V802.7H647.5V809H648V814.5H648.5V814.7H649V814.9H649.5V815.1H650V815.2H650.5V815.4H651V816.1H651.5V817.3H652V813.3H652.5V807.6H653V800.1H653.5V793.2H654V786.5H654.5V778.5H655V767.7H659.5V771.2H660V777.2H660.5V792.2H661V799.1H661.5V805.1H662V810.9H662.5V816.7H663V819.5H664V816H664.5V813.4H665V812.9H665.5V812.5H666V812H666.5V803.5H667V792.3H667.5V788.1H668V786.1H668.5V780.3H669V773.3H669.5V767.2H670V761.3H670.5V754.7H671V746.5H671.5V744.7H674V744.6H676V744.5H678V744.4H679.5V744.5H680V748.2H680.5V751.8H681V752.1H681.5V752.4H682V752.7H682.5V752.8H683V752.9H683.5V753H684V753.1H684.5V753.2H685V753.3H685.5V771.3H686V798.2H686.5V814.7H687V817.2H687.5V816.8H688V815.9H688.5V815.5H689V815.4H690V815.3H691V815.2H692V815.1H692.5V812.5H693V809.7H693.5V809.5H695.5V814.3H696V815.6H696.5V815.8H697V816H697.5V816.1H698V816.3H698.5V816.5H699V818.9H699.5V822.6H700V828.9H700.5V850H701V853.4H701.5V853.1H702V850.1H702.5V847H703V846.4H705V846.7H705.5V847.1H706V847.4H706.5V847.3H707V847.2H707.5V847.1H708V846.5H708.5V833.7H709V821.1H709.5V813.1H710V805.6H712V807.4H712.5V834.1H713V839.6H713.5V842.1H714V842.4H715.5V841.1H716V836.8H716.5V835.4H717V835.3H718V835.2H718.5V835.1H719V831.7H719.5V803.7H720V791H720.5V779.5H721V778.6H721.5V778.5H722V778.4H722.5V778.3H723V778.2H723.5V778.1H724V781.4H724.5V792.5H725V815.6H725.5V828.6H726V839.2H726.5V838H727V824.6H727.5V802.1H728V797.7H728.5V793.7H729V787.4H729.5V783.6H730.5V783.5H732V783.4H733.5V783.3H735V783.2H736V783.1H737V783H738V782.9H738.5V782.8H739.5V782.7H740.5V782.1H741V774.6H741.5V770.7H742V770.6H743.5V770.5H745.5V770.4H747V770.3H748.5V772.7H749V777.3H749.5V793.1H750V808.6H750.5V824.9H751V838.4H752V807.9H752.5V798.4H753V792.1H753.5V787.9H754V783.8H754.5V783.6H759V784.4H759.5V786.3H760V782.1H760.5V776.6H761V771.4H761.5V767.3H762V767.2H763.5V767.1H764.5V767H766V766.9H767V766.8H768.5V766.7H769V766.3H769.5V765.4H770.5V765.6H771V768.1H771.5V773.1H772V784.5H772.5V793.2H775V786.2H775.5V776.7H777.5V786.9H778V796.8H778.5V802.8H779V808.2H779.5V813.2H780V815.6H781V815.7H781.5V815.8H782.5V815.9H783V817.2H783.5V819.5H784V820.5H784.5V820.4H785.5V820.3H787V820.2H788V820.1H789V820H790.5V819.9H791V810.4H791.5V799.9H792V795.9H792.5V788.6H793V779.6H794.5V784.5H795V794.8H795.5V798.6H796.5V791.6H797V791.3H797.5V791H798V790.8H798.5V785.7H799V778.2H799.5V778.1H800V778H800.5V777.9H801V777.8H801.5V777.7H802.5V777.8H803.5V777.9H804.5V778H805V778.1H806V778.2H807V781.6H807.5V786H808V788.5H808.5V791H809V791.8H809.5V792.1H810V792.5H810.5V792.3H811V791.8H811.5V791.3H812V791.1H812.5V790.9H813V790.8H813.5V790.6H814V780.8H814.5V775.6H815V775.5H815.5V775.4H816V775.3H816.5V778.4H817V783.6H817.5V784.3H818V784.9H818.5V785.5H819V785.4H819.5V785.1H820V784.7H820.5V779.9H821V772.5H821.5V768H822V767.3H823V767.6H823.5V773.7H824V775.1H824.5V775.6H825V773.5H825.5V771.7H826V771.6H829V771.5H831.5V771.4H834.5V771.3H836.5V774.2H837V777.8H837.5V778.5H838V779.3H838.5V780H840V779.9H841V779.8H842.5V779.7H843.5V779.6H844V775.2H844.5V770.7H847V776.4H847.5V780.4H848V782.3H848.5V782.9H849V783.3H849.5V783.7H850V785.7H850.5V788H851V796.7H851.5V809.3H852V826.8H852.5V836.1H853V841.8H857.5V841.2H858V834.5H858.5V831H859.5V830.9H860.5V830.8H861V830.7H862V830.6H863V830.5H863.5V828.7H864V815.4H864.5V814.5H866V823.8H866.5V829.4H867V829.3H867.5V829.2H868V829.1H868.5V826.6H869V811.9H869.5V796.1H870V779.6H870.5V779.2H872V781.6H872.5V786.6H874.5V785.5H875V779.8H875.5V772.3H876V763.6H876.5V760.7H877V757.8H877.5V742.6H878V738.3H878.5V706.1H879V683.8H879.5V683.6H880V669.2H884V687.7H884.5V725H885V725.6H885.5V732.5H886V733.9H886.5V734.2H887V738.8H887.5V739.2H888V788.2H888.5V830H889V837.2H889.5V852.3H890V855.6H890.5V872.2H891V875.5H891.3V876Z"/>
<path class="data" d="M905 876V862.7H905V862.5H905.5V862.2H906V850.8H906.5V850.3H913V850.9H913.5V861.2H913.7V876Z"/>
<path class="ax" d="M90.7 547V924.2H976.5M90.7 875.35H976.5M90.7 792.4h8.5M90.7 710.6h8.5M90.7 628.8h8.5M90.7 547h8.5M179.28 924.2v-8.5M267.86 924.2v-8.5M356.44 924.2v-8.5M445.02 924.2v-8.5M533.6 924.2v-8.5M622.18 924.2v-8.5M710.76 924.2v-8.5M799.34 924.2v-8.5M887.92 924.2v-8.5M976.5 924.2v-8.5"/>
<rect x="129.7" y="875.65" width="6" height="49.25" fill="#9b9b66"/>
<rect x="359.05" y="875.65" width="5.8" height="49.25" fill="#f6951f"/>
<rect x="364.8" y="875.65" width="4.3" height="49.25" fill="#1d6240"/>
<rect x="384.7" y="875.65" width="6" height="49.25" fill="#3fbc86"/>
<rect x="411.45" y="875.65" width="6" height="49.25" fill="#e5ac23"/>
<rect x="544.2" y="875.65" width="6" height="49.25" fill="#3fbc86"/>
<rect x="638.2" y="875.65" width="6" height="49.25" fill="#f6951f"/>
<rect x="752.2" y="875.65" width="6" height="49.25" fill="#9b9b66"/>
<rect x="764.95" y="875.65" width="6" height="49.25" fill="#9b9b66"/>
<text class="ytick" transform="translate(82.7 883.2) scale(0.92 1)">0</text>
<text class="ytick" transform="translate(82.7 801.4) scale(0.92 1)">5</text>
<text class="ytick" transform="translate(82.7 719.6) scale(0.92 1)">10</text>
<text class="ytick" transform="translate(82.7 637.8) scale(0.92 1)">15</text>
<text class="ytick" transform="translate(82.7 556) scale(0.92 1)">20</text>
<text class="tick" transform="translate(91 958.7) scale(0.93 1)">0</text>
<text class="tick" transform="translate(179.58 958.7) scale(0.93 1)">100</text>
<text class="tick" transform="translate(268.16 958.7) scale(0.93 1)">200</text>
<text class="tick" transform="translate(356.74 958.7) scale(0.93 1)">300</text>
<text class="tick" transform="translate(445.32 958.7) scale(0.93 1)">400</text>
<text class="tick" transform="translate(533.9 958.7) scale(0.93 1)">500</text>
<text class="tick" transform="translate(622.48 958.7) scale(0.93 1)">600</text>
<text class="tick" transform="translate(711.06 958.7) scale(0.93 1)">700</text>
<text class="tick" transform="translate(799.64 958.7) scale(0.93 1)">800</text>
<text class="tick" transform="translate(888.22 958.7) scale(0.93 1)">900</text>
<text class="tick" transform="translate(976.8 958.7) scale(0.93 1)">1000</text>
<text class="xlab" transform="translate(533.5 995.3) scale(1 1.04)">Position</text>
<text class="yl" transform="translate(47.7 916.6) rotate(-90) scale(1 1.03)"><tspan class="ybar" x="0" y="-4.95">|</tspan><tspan x="2.78" y="0"> Folding energy </tspan><tspan class="ybar" x="215.8" y="-4.95">|</tspan><tspan class="ybr" x="221.31" y="-2.33"> [</tspan><tspan x="234.4" y="0">KCal</tspan><tspan x="300.2" y="0" textLength="10.3" lengthAdjust="spacingAndGlyphs">/</tspan><tspan x="310" y="0" textLength="48.7" lengthAdjust="spacingAndGlyphs">mol</tspan><tspan class="ybr" x="359.5" y="-2.33">]</tspan></text>
<text class="letter" transform="translate(5.5 501.6) scale(0.85 1)">C</text>
<rect x="611.5" y="554.2" width="259.1" height="174.8" fill="#fff" stroke="#555" stroke-width="1.1"/>
<rect x="618.3" y="570" width="33.4" height="5.8" fill="#1d6240"/>
<text class="leg" transform="translate(655.2 582.65) scale(1.01 1.03)">cap splicing site</text>
<rect x="618.3" y="604.2" width="33.4" height="5.8" fill="#e5ac23"/>
<text class="leg" transform="translate(655.2 616.85) scale(1.01 1.03)">rep<tspan class="pr" dx="2.6" dy="-1.5">/</tspan><tspan dx="0.6" dy="1.5"> </tspan>splicing site</text>
<rect x="618.3" y="638.35" width="33.4" height="5.8" fill="#f6951f"/>
<text class="leg" transform="translate(655.2 651) scale(1.01 1.03)">ORF<tspan class="sm" dx="1.5">3</tspan><tspan dx="-1.5"> </tspan>start <tspan class="amp" dx="-1.3">&amp;</tspan><tspan dx="-0.9"> </tspan>stop</text>
<rect x="618.3" y="672.5" width="33.4" height="5.8" fill="#3fbc86"/>
<text class="leg" transform="translate(655.2 685.15) scale(1.01 1.03)">ORF<tspan class="sm" dx="1.5">4</tspan><tspan dx="-1.5"> </tspan>start <tspan class="amp" dx="-1.3">&amp;</tspan><tspan dx="-0.9"> </tspan>stop</text>
<rect x="618.3" y="706.3" width="33.4" height="5.8" fill="#9b9b66"/>
<text class="leg" transform="translate(655.2 718.95) scale(1.01 1.03)">rep<tspan class="sm" dx="1.5">3</tspan><tspan dx="-1.5"> </tspan>splicing sites</text>
</g>
<g id="panel-D">
<path class="data" d="M1103.9 878.8V752.7H1107V757.1H1107.5V763.7H1108V764.6H1108.5V765.4H1109V778.1H1109.5V794H1110V805.8H1110.5V818.8H1111V828.5H1112V822.4H1112.5V817.5H1114V807.9H1114.5V800.4H1115V800H1115.5V799.7H1116V783.9H1116.5V765.7H1117V751.7H1117.5V742.5H1118V738H1118.5V735.8H1121.5V759.9H1122V771.9H1122.5V772.2H1123V772.5H1123.5V774.4H1124V777.5H1124.5V807.9H1125V821.6H1125.5V829.6H1126V832.8H1126.5V834.6H1127V836.4H1127.5V852.9H1128V863.4H1128.5V863.5H1129.5V863.6H1130V863.7H1131V864.2H1131.5V864.8H1132V865.4H1132.5V866.2H1133V867H1133.5V862.7H1134V855.4H1134.5V854.4H1135V853.5H1135.5V852.6H1136V840.3H1136.5V825.8H1137V813.7H1137.5V809.5H1159.5V811H1160V812.8H1160.5V814.5H1161V816.2H1161.5V816.6H1162V816.7H1162.5V816.9H1163V817H1163.5V816.7H1164V802H1164.5V767.3H1165V753.2H1165.5V753.1H1166V752.9H1166.5V752.7H1167V751.7H1167.5V750.9H1168V752.6H1168.5V754.2H1169V754.5H1169.5V754.9H1170V755.3H1170.5V771.7H1171V797.5H1171.5V812.5H1172V812.6H1174.5V812.7H1177.5V812.8H1180.5V812.9H1182.5V812.6H1183V810.5H1183.5V809.5H1184.5V809.4H1185.5V809.3H1186.5V809.2H1187V809.1H1187.5V808.4H1188V807.6H1190V808H1190.5V809H1191V809.7H1191.5V810H1192V810.3H1192.5V810.5H1195.5V810.7H1196V811.3H1196.5V811.9H1197V818.5H1197.5V821H1198V820.9H1198.5V820.7H1199V820.6H1199.5V819.9H1200V817.8H1200.5V817.1H1201V817H1201.5V816.9H1202V816.8H1203V809.5H1203.5V796.3H1204V785.7H1204.5V782.6H1205V782.5H1205.5V782.3H1206V782.2H1206.5V782.1H1207V782.2H1207.5V783.2H1208V784.1H1208.5V784.2H1209V784.3H1209.5V784.4H1210V784.6H1210.5V785.3H1211V787.3H1211.5V789H1212V790H1212.5V799H1213V817.5H1213.5V817.6H1214V817.7H1214.5V817.8H1215V817.9H1215.5V818H1216V818.3H1216.5V818.5H1217V818.8H1217.5V819H1218V822.3H1218.5V827.7H1219V843.3H1219.5V852.4H1220.5V843.5H1221V825H1221.5V814.4H1222V809.9H1222.5V809H1223V808.1H1223.5V807.1H1224V806.1H1224.5V805.6H1226.5V806.1H1227V807.1H1227.5V808.2H1228V809.3H1228.5V810.4H1229V811.2H1229.5V811.5H1230V819.3H1230.5V829.6H1231V831.3H1231.5V833H1232V833.5H1235.5V833.6H1236V833.8H1236.5V834.1H1237V834.3H1237.5V834.5H1238V834.7H1238.5V834.8H1239V835H1239.5V834.9H1240V834.6H1240.5V834.5H1247V858.1H1247.5V869.3H1248.5V862.1H1249V852.4H1249.5V845.6H1250V844.3H1250.5V844.2H1251V844.1H1251.5V844H1252V843.9H1252.5V843.8H1254.5V843.7H1257.5V843.6H1260.5V843.5H1263V843.4H1264V842.7H1264.5V841.8H1265V841.1H1265.5V840.3H1266V839.6H1266.5V838.3H1267V836.8H1267.5V836.4H1268V836.3H1269V836.2H1269.5V836.1H1270.5V833.3H1271V831.9H1273.5V838.2H1274V841.4H1274.5V841.3H1275V841.2H1275.5V841.1H1276.5V840.6H1277V840H1277.5V839.4H1278V838.8H1278.5V838.2H1279V837.5H1279.5V837H1280V836.5H1280.5V834.8H1281V832.8H1281.5V832.5H1285V835.4H1285.5V839.7H1286V842.2H1286.5V843.5H1287.5V843.6H1288.5V843.7H1289V843.8H1289.5V844H1290V845.8H1290.5V848.1H1291V854.1H1291.5V859.6H1292V861.1H1292.5V859.6H1293V855.6H1293.5V839H1294V826.3H1294.5V823H1295V819.7H1295.5V802.9H1296V785.8H1296.5V769.6H1297V761.5H1297.5V756H1298V753.9H1298.5V752.8H1299V751.8H1299.5V746H1300V740.2H1300.5V725.7H1301V705.1H1301.5V704.2H1302V703.5H1302.5V701.8H1303V696.5H1303.5V692.3H1304V692.1H1304.5V691.8H1305V691.6H1309.5V701.3H1310V737.8H1310.5V738.2H1311V738.5H1311.5V739.6H1312V742.6H1312.5V745H1313V746H1313.5V746.9H1314V747.8H1314.5V748.2H1315V748.6H1315.5V749H1316V749.6H1316.5V752.3H1317V754.8H1317.5V755.3H1318V757.5H1318.5V773.3H1319V794.7H1319.5V809.6H1320V809.7H1320.5V809.8H1321V810.6H1321.5V815.9H1322V820.6H1322.5V821.1H1323V821.6H1323.5V827.7H1324V844.3H1324.5V852.2H1325V856.5H1325.5V857H1326V857.5H1326.5V858H1327V858.4H1327.5V858.6H1328V858.7H1328.5V858.9H1329V859.1H1329.5V859.2H1330V859.7H1330.5V861.1H1331V862.5H1331.5V863.4H1332V863.5H1332.5V863.6H1333V863.7H1333.5V862.6H1334V859.9H1334.5V858.2H1335V857.7H1335.5V853.9H1336V845.7H1336.5V844.3H1337V844.1H1337.5V844H1338V843.8H1338.5V837.8H1339V832.5H1339.5V832.6H1340V832.7H1340.5V832.8H1341.5V832.9H1342V833H1342.5V838.2H1343V845.9H1343.5V846H1344V846.1H1344.5V846.2H1345V846.3H1345.5V846.7H1346V849.9H1346.5V851.1H1347V850.6H1347.5V846.2H1348V838.1H1348.5V822.5H1349V811.4H1349.5V811H1350V810.6H1350.5V795.9H1351V781.8H1351.5V770.5H1352V739.1H1352.5V721.6H1353V721.2H1353.5V720H1354V714.3H1354.5V710.8H1355V708.8H1355.5V707.2H1356V705.9H1356.5V704.6H1357V702.9H1357.5V701.3H1358V696.1H1358.5V693.6H1361V694.4H1361.5V696.6H1362V697.1H1362.5V697.4H1363V698.7H1363.5V700.1H1364V685.7H1364.5V673.3H1365V663.3H1365.5V657.8H1366V655H1366.5V652.1H1367V646.7H1367.5V644.6H1368V644.4H1368.5V644.2H1369V644H1369.5V643.8H1370V645.3H1370.5V647.1H1371V647.4H1371.5V647.5H1372.5V647.6H1373V647.7H1373.5V648.5H1374V649.5H1374.5V650.6H1375V652.1H1375.5V653.6H1376V654.5H1376.5V655.5H1377V656.4H1377.5V657.2H1378V657.9H1378.5V658.6H1379V665.7H1379.5V669.2H1380V671.4H1380.5V673.5H1381V686H1381.5V699H1382V704.9H1382.5V710.5H1383V713.2H1383.5V713.7H1384V730.1H1384.5V748H1385V748.6H1385.5V760.5H1386V807H1386.5V821.9H1387V822.4H1387.5V843.1H1388V853.8H1388.5V854.6H1389V855.3H1389.5V856.1H1390V856.7H1390.5V857.2H1391V862.4H1391.5V870.3H1392V869.7H1392.5V863.9H1393V851.4H1393.5V836.8H1394V830.5H1394.5V829H1395V828.4H1395.5V828.3H1396V828.2H1396.5V828.1H1397V828H1397.5V827.9H1402V828.1H1402.5V828.4H1403V828.7H1403.5V829H1404V840.6H1404.5V848.4H1405.5V834.1H1406V829.9H1406.5V830H1407V830.1H1407.5V830.2H1408V830.3H1408.5V830.4H1409V839.3H1409.5V849.8H1410V852.3H1410.5V854.8H1411V856.9H1411.5V858.9H1412V865.5H1412.5V873.5H1413V875.3H1415V875.2H1415.5V875H1416V874.9H1416.5V874.7H1417V874.5H1417.5V874.4H1418.5V874.5H1419V874.6H1419.5V874.8H1420V874.9H1420.5V862.6H1421V838.1H1421.5V814.5H1422V814.1H1422.5V813.8H1423V813H1423.5V802.2H1424V800.6H1426V801.7H1426.5V818.4H1427V820.7H1427.5V820.9H1428V821H1428.5V819.6H1429V817.2H1429.5V813.4H1430V811.3H1430.5V810.9H1431V810.3H1431.5V807.8H1432V807.6H1434V808.5H1434.5V809.5H1435V809.6H1435.5V809.7H1436V809.8H1436.5V809.9H1437V811.6H1437.5V813.4H1438V814.5H1438.5V815.5H1439V820.3H1439.5V827.6H1440V838.8H1440.5V841.6H1441V840.8H1441.5V834.5H1442V831.9H1445V832.8H1445.5V837.6H1446V861.4H1447.5V840.7H1448V829.5H1448.5V812.6H1449V794.7H1449.5V777.9H1450V764.9H1450.5V754.5H1451V747.3H1451.5V743.4H1452V743.3H1453V743.2H1453.5V743.1H1454.5V743H1455.5V742.9H1456.5V742.8H1457.5V698.4H1458V698.1H1458.5V668.6H1459V668.3H1459.5V658H1460V628.4H1460.5V627.9H1461V592.3H1461.5V592.1H1462V592H1462.5V580.4H1463V554.4H1465.5V586H1466V586.9H1466.5V615.9H1467V616.4H1467.5V623.5H1468V650.9H1468.5V651.6H1469V693.8H1469.5V724.2H1471V697.5H1473.5V698.4H1474V702.5H1474.5V703H1475V703.7H1475.5V723.7H1476V727.8H1476.5V728.3H1477V736.3H1477.5V744H1478V744.6H1478.5V738.7H1479V735.4H1480V724.2H1480.5V713H1481V703.1H1481.5V694.9H1482V687.2H1484.5V690H1485V699.6H1485.5V699.9H1486V700.3H1486.5V704.2H1487V717.2H1487.5V735.5H1488V745.3H1488.5V755.8H1489V756.2H1489.5V756.6H1490V760.3H1490.5V767.1H1491V768.8H1491.5V770.1H1492V773.6H1492.5V779.1H1493V788.1H1493.5V800.1H1494V805.6H1495V805.7H1495.5V805.8H1496.5V805.9H1497.5V803.5H1498V796.7H1498.5V795.2H1500.5V809.6H1501V817.3H1501.5V817.6H1502V817.9H1502.5V830.5H1503.5V824.3H1504V809.3H1504.5V806.6H1508.5V812.3H1509V817.6H1509.5V817.9H1510V818.2H1510.5V818.6H1511V819.4H1511.5V820.2H1512V822.5H1512.5V825.5H1513V826.8H1513.5V827.3H1514V836.6H1514.5V843.4H1515V843.3H1516V843.2H1517V843.1H1517.5V843H1518V842.9H1518.5V842.6H1519V842.4H1519.5V842.1H1520V841.9H1520.5V834.7H1521V829.5H1521.5V829.4H1522V829.3H1522.5V829.2H1523.5V829.1H1524V829.2H1524.5V829.3H1525V829.4H1525.5V829.6H1526V829.7H1526.5V829.8H1527V829.9H1536V829.7H1536.5V829.5H1537V829.3H1537.5V829.1H1538.5V829.2H1539V829.3H1540V829.4H1540.5V829.5H1541.5V829.6H1543V829.7H1544V829.8H1545V829.9H1545.5V854.8H1546V872.4H1547V872.5H1547.5V872.6H1548V872.7H1548.5V872.8H1549.5V872.9H1550V873.9H1550.5V875H1551V876H1551.5V876.3H1552V876.4H1553.5V876.5H1555V876.6H1557V876.7H1558.5V876.8H1560V876.9H1561.5V877H1563V877.1H1564.5V877.2H1566V877.3H1567V877.6H1567.5V877.8H1567.7V878.8Z"/>
<path class="data" d="M1601.2 878.8V873.6H1601.5V864.5H1602V858.3H1602.5V856H1603V855.4H1603.5V854.8H1604V854.2H1604.5V853.8H1609.5V854H1610V854.6H1610.5V855.3H1611V855.8H1612V855.7H1614V855.6H1616V855.5H1618V855.4H1620V855.5H1621V855.6H1622V855.7H1623V855.8H1623.5V857.5H1624V861.2H1624.5V861.7H1625.5V861.6H1626.5V861.5H1627.5V861.4H1629V861.6H1629.5V861.8H1630V861.9H1630.5V862.1H1631V862.3H1631.5V861.6H1632V860.1H1632.5V859H1633V858.3H1633.5V857.6H1634V852H1634.5V845.3H1635V844.5H1635.5V843.6H1636V840.4H1636.5V836.2H1637V832.9H1637.5V831.4H1638V830.4H1639V830.3H1639.5V830.2H1640V830.1H1641V830H1641.5V829.9H1642V828.8H1642.5V827.4H1643V826.4H1643.5V826.1H1644V825.8H1644.5V825.5H1645V825.2H1645.5V825H1646V824.8H1646.5V824.6H1647V824.4H1647.5V824.2H1648V824H1648.5V823.8H1649V823.6H1649.5V823.4H1650V823.2H1650.5V823.1H1651V823.2H1652.5V823.3H1653.5V823.4H1655V823.5H1655.5V824.1H1656V824.9H1656.5V828.3H1657V838.3H1657.5V847.9H1658V856.6H1658.5V859.1H1659V861.6H1659.5V862.4H1660V862.6H1660.5V862.7H1661V862.8H1661.5V862.9H1662V864.5H1662.5V866.2H1663V866.5H1663.5V866.6H1664V866.7H1664.5V866.8H1665V866.9H1665.5V867.4H1666V868H1666.5V868.7H1667V869.5H1667.5V870.5H1668V871.8H1668.5V875H1669V876.4H1669.5V876.5H1670V876.6H1670.5V876.8H1671V876.9H1671.5V876.1H1672V875H1672.5V874H1673V873.2H1673.5V872.3H1683.5V872.5H1684V872.8H1684.5V873H1685V873.3H1685.5V865.6H1686V856.3H1686.5V845.7H1687V841.7H1687.5V840.6H1688V839.5H1688.5V825H1689V809H1689.5V803.7H1690V799.5H1690.5V798.7H1691V798.1H1691.5V797.5H1692V796.5H1692.5V795.6H1693V794.7H1693.5V794.1H1694V793.6H1694.5V793.1H1695V792.6H1695.5V792.3H1696V791.9H1696.5V791.6H1697V791.2H1704.5V791.3H1705V791.4H1705.5V791.5H1706.5V788.2H1707V787.3H1707.5V787H1708V786.6H1708.5V786.8H1709V786.9H1709.5V787H1710V793.7H1710.5V803H1711V815.6H1711.5V816.2H1712V816.8H1712.5V817.4H1713V818.1H1713.5V818.9H1714V820.6H1714.5V833.1H1715V834.5H1715.5V831H1716V820.5H1719V822.2H1719.5V823.5H1724V821.4H1724.5V807.7H1725V807.1H1725.5V807H1726V806.9H1726.5V806.8H1727V808.4H1727.5V817.9H1728V822.2H1728.5V822.7H1729V823.1H1729.5V823H1730.5V822.9H1731V822.8H1732V822.7H1733V822.6H1733.5V822.5H1734V820.3H1734.5V810.5H1737.5V813.7H1738V820.9H1738.5V822.1H1739V822.3H1739.5V822.4H1740V812H1740.5V795.5H1741V778.3H1741.5V776H1742.5V775.9H1743V775.8H1744V775.7H1744.5V776H1745V779.1H1745.5V780.7H1747.5V780.8H1749.5V780.9H1751.5V781H1753.5V782.7H1754V785.5H1754.5V786H1755V786.4H1755.5V795.7H1756V805.6H1762V826H1762.5V835.5H1763V835.6H1763.5V835.7H1764.5V835.8H1765V838.1H1765.5V843.1H1766V844H1766.5V844.2H1767V844.4H1767.5V843.6H1768V842.3H1768.5V841.8H1770.5V843.2H1771V847.9H1771.5V857.8H1772V860.4H1773V857.3H1773.5V855.8H1774.5V856.8H1775V860H1775.5V861.1H1776V861.3H1776.5V865.2H1777V867.7H1781.5V863.8H1782V857.6H1782.5V846.6H1783V841.8H1783.5V841.6H1784V841.5H1784.5V841.4H1785V841.2H1785.5V841.1H1786V831H1786.5V820.4H1787V820H1787.5V819.7H1788V813.7H1788.5V808H1791V808.6H1791.5V809.7H1792V814.7H1792.5V817.8H1793V818.5H1793.5V819.3H1794V823.7H1794.5V830.2H1795V832.6H1795.5V832.7H1796V832.9H1796.5V833H1797V833.9H1797.5V835.1H1798V833.1H1798.5V829.6H1799V828.3H1799.5V828H1800V827.6H1800.5V826H1801V822.8H1801.5V822.5H1807V822.6H1807.5V822.7H1808V822.9H1808.5V823H1809V823.2H1809.5V823.3H1810V823.4H1810.5V824.5H1811V826.4H1811.5V826.9H1812V827.3H1812.5V832.6H1813V841.6H1813.5V846.2H1814V849.1H1814.5V849.3H1815V849.5H1815.5V849.7H1816V851.2H1816.5V854.7H1817V856.7H1817.5V858.4H1818V862.4H1818.5V869.9H1819V871.5H1819.5V871.6H1820V869.5H1820.5V864.3H1821V860H1821.5V856.9H1822V856.7H1822.5V856.4H1823V856.2H1823.5V855.9H1824V852.7H1824.5V846H1825V844.9H1825.5V844.8H1826V844.7H1826.5V844.6H1827V844.5H1827.5V848.4H1829V838.4H1831.5V838.3H1834.5V838.2H1837V838.1H1839.5V838H1840V840.6H1840.5V843.3H1841V846.1H1841.5V848.9H1842V849.2H1842.5V849.4H1843V849.7H1843.5V850.9H1844V853.8H1844.5V854.9H1845V855.4H1845.5V862.7H1846V876.4H1846.5V876.5H1847V876.7H1847.5V876.9H1848V877.1H1848.5V877.3H1850.5V877.2H1853.5V877.1H1856.5V877H1859.5V876.9H1860.5V877H1861V877.5H1861.5V877.8H1861.7V878.8Z"/>
<path class="ax" d="M1088 547.75V926.9H1977M1088 878.2H1977M1088 794.95h8.5M1088 712.55h8.5M1088 630.15h8.5M1088 547.75h8.5M1199.12 926.9v-8.5M1310.25 926.9v-8.5M1421.38 926.9v-8.5M1532.5 926.9v-8.5M1643.62 926.9v-8.5M1754.75 926.9v-8.5M1865.88 926.9v-8.5M1977 926.9v-8.5"/>
<text class="ytick" transform="translate(1080 886.35) scale(0.89 1)">0</text>
<text class="ytick" transform="translate(1080 803.95) scale(0.89 1)">5</text>
<text class="ytick" transform="translate(1080 721.55) scale(0.89 1)">10</text>
<text class="ytick" transform="translate(1080 639.15) scale(0.89 1)">15</text>
<text class="ytick" transform="translate(1080 556.75) scale(0.89 1)">20</text>
<text class="tick" transform="translate(1087.6 960.6) scale(0.9 1)">0</text>
<text class="tick" transform="translate(1198.72 960.6) scale(0.9 1)">100</text>
<text class="tick" transform="translate(1309.85 960.6) scale(0.9 1)">200</text>
<text class="tick" transform="translate(1420.97 960.6) scale(0.9 1)">300</text>
<text class="tick" transform="translate(1532.1 960.6) scale(0.9 1)">400</text>
<text class="tick" transform="translate(1643.22 960.6) scale(0.9 1)">500</text>
<text class="tick" transform="translate(1754.35 960.6) scale(0.9 1)">600</text>
<text class="tick" transform="translate(1865.47 960.6) scale(0.9 1)">700</text>
<text class="tick" transform="translate(1976.6 960.6) scale(0.9 1)">800</text>
<text class="xlab" transform="translate(1532 998.5) scale(0.98 1)">Position</text>
<text class="yl" transform="translate(1045.3 919.25) rotate(-90) scale(1 0.97)"><tspan class="ybar" x="0" y="-5.26">|</tspan><tspan x="2.78" y="0"> Folding energy </tspan><tspan class="ybar" x="215.8" y="-5.26">|</tspan><tspan class="ybr" x="221.31" y="-2.47"> [</tspan><tspan x="234.4" y="0">KCal</tspan><tspan x="300.2" y="0" textLength="10.3" lengthAdjust="spacingAndGlyphs">/</tspan><tspan x="310" y="0" textLength="48.7" lengthAdjust="spacingAndGlyphs">mol</tspan><tspan class="ybr" x="359.5" y="-2.47">]</tspan></text>
<text class="letter" transform="translate(1974.8 518.2) scale(0.97 1)">D</text>
</g>
</svg>
</body></html>
